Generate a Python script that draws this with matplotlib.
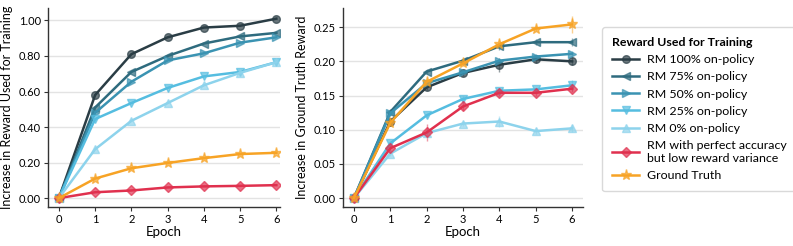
import matplotlib
matplotlib.use("Agg")
from matplotlib import pyplot as plt

plt.rcParams["font.family"] = ["Lato", "DejaVu Sans"]

epochs = [0, 1, 2, 3, 4, 5, 6]

labels = [
    "RM 100% on-policy",
    "RM 75% on-policy",
    "RM 50% on-policy",
    "RM 25% on-policy",
    "RM 0% on-policy",
    "RM with perfect accuracy\nbut low reward variance",
    "Ground Truth",
]
colors = ["#2a3d45", "#2e6b7e", "#3a93b2", "#55bde0", "#8dd3ec", "#e0304e", "#f7a325"]
markers = ["o", "<", ">", "v", "^", "D", "*"]

# reward used for training (left panel)
train_reward = [
    [0, 0.58, 0.81, 0.905, 0.96, 0.97, 1.01],
    [0, 0.51, 0.71, 0.80, 0.87, 0.91, 0.93],
    [0, 0.48, 0.655, 0.775, 0.815, 0.875, 0.905],
    [0, 0.445, 0.535, 0.62, 0.685, 0.71, 0.765],
    [0, 0.275, 0.435, 0.535, 0.635, 0.705, 0.765],
    [0, 0.033, 0.043, 0.06, 0.066, 0.069, 0.073],
    [0, 0.11, 0.168, 0.198, 0.225, 0.248, 0.255],
]

# ground truth reward (right panel)
gt_reward = [
    [0, 0.112, 0.162, 0.183, 0.195, 0.203, 0.200],
    [0, 0.126, 0.185, 0.201, 0.222, 0.228, 0.228],
    [0, 0.124, 0.168, 0.184, 0.201, 0.207, 0.211],
    [0, 0.080, 0.121, 0.145, 0.157, 0.159, 0.165],
    [0, 0.065, 0.095, 0.109, 0.112, 0.098, 0.102],
    [0, 0.073, 0.096, 0.134, 0.154, 0.154, 0.160],
    [0, 0.110, 0.170, 0.197, 0.225, 0.248, 0.254],
]
gt_err = [
    [0, 0.004, 0.004, 0.005, 0.010, 0.006, 0.006],
    [0, 0.004, 0.004, 0.004, 0.005, 0.004, 0.006],
    [0, 0.004, 0.004, 0.004, 0.004, 0.004, 0.004],
    [0, 0.003, 0.004, 0.004, 0.004, 0.004, 0.008],
    [0, 0.003, 0.004, 0.004, 0.008, 0.004, 0.005],
    [0, 0.004, 0.012, 0.005, 0.004, 0.004, 0.005],
    [0, 0.004, 0.004, 0.004, 0.004, 0.004, 0.012],
]

fig = plt.figure(figsize=(7.93, 2.46), dpi=100)
ax1 = fig.add_axes([48 / 793, 39 / 246, 232 / 793, 199 / 246])
ax2 = fig.add_axes([343 / 793, 39 / 246, 240 / 793, 199 / 246])


def style(ax):
    for side in ["top", "right"]:
        ax.spines[side].set_visible(False)
    for side in ["left", "bottom"]:
        ax.spines[side].set_color("#333333")
        ax.spines[side].set_linewidth(1.0)
    ax.grid(axis="y", color="#e3e3e3", linewidth=1.0)
    ax.set_axisbelow(True)
    ax.tick_params(labelsize=8, length=3, color="#333333", pad=2)
    ax.set_xticks(epochs)
    ax.set_xlabel("Epoch", fontsize=9.5, labelpad=1)


handles = []
for i in range(len(labels)):
    ms = 8 if markers[i] == "*" else 5.5
    if markers[i] == "D":
        ms = 5
    (h,) = ax1.plot(epochs, train_reward[i], color=colors[i], marker=markers[i],
                    markersize=ms, linewidth=1.8, markeredgewidth=1.0,
                    markerfacecolor=colors[i] + "b0", label=labels[i])
    handles.append(h)
    ax2.errorbar(epochs, gt_reward[i], yerr=gt_err[i], color=colors[i],
                 marker=markers[i], markersize=ms, linewidth=1.8,
                 markeredgewidth=1.0, markerfacecolor=colors[i] + "b0",
                 elinewidth=1.0, ecolor=colors[i] + "80", capsize=0)

style(ax1)
ax1.set_xlim(-0.3, 6.1)
ax1.set_ylim(-0.05, 1.07)
ax1.set_yticks([0, 0.2, 0.4, 0.6, 0.8, 1.0])
ax1.set_yticklabels(["%.2f" % v for v in [0, 0.2, 0.4, 0.6, 0.8, 1.0]])
ax1.set_ylabel("Increase in Reward Used for Training", fontsize=9, labelpad=4)

style(ax2)
ax2.set_xlim(-0.3, 6.3)
ax2.set_ylim(-0.013, 0.278)
ax2.set_yticks([0, 0.05, 0.1, 0.15, 0.2, 0.25])
ax2.set_yticklabels(["%.2f" % v for v in [0, 0.05, 0.1, 0.15, 0.2, 0.25]])
ax2.set_ylabel("Increase in Ground Truth Reward", fontsize=9, labelpad=4)

leg = fig.legend(handles=handles, loc="upper left",
                 bbox_to_anchor=(596 / 793, 1 - 21 / 246),
                 title="Reward Used for Training", fontsize=8.9,
                 title_fontproperties={"weight": "bold", "size": 8.9},
                 frameon=True, handlelength=2.2, labelspacing=0.5,
                 borderpad=0.8, fancybox=True, handletextpad=0.6)
leg.get_frame().set_edgecolor("#d0d0d0")
leg._legend_box.align = "left"

fig.savefig("out.png", dpi=100)
